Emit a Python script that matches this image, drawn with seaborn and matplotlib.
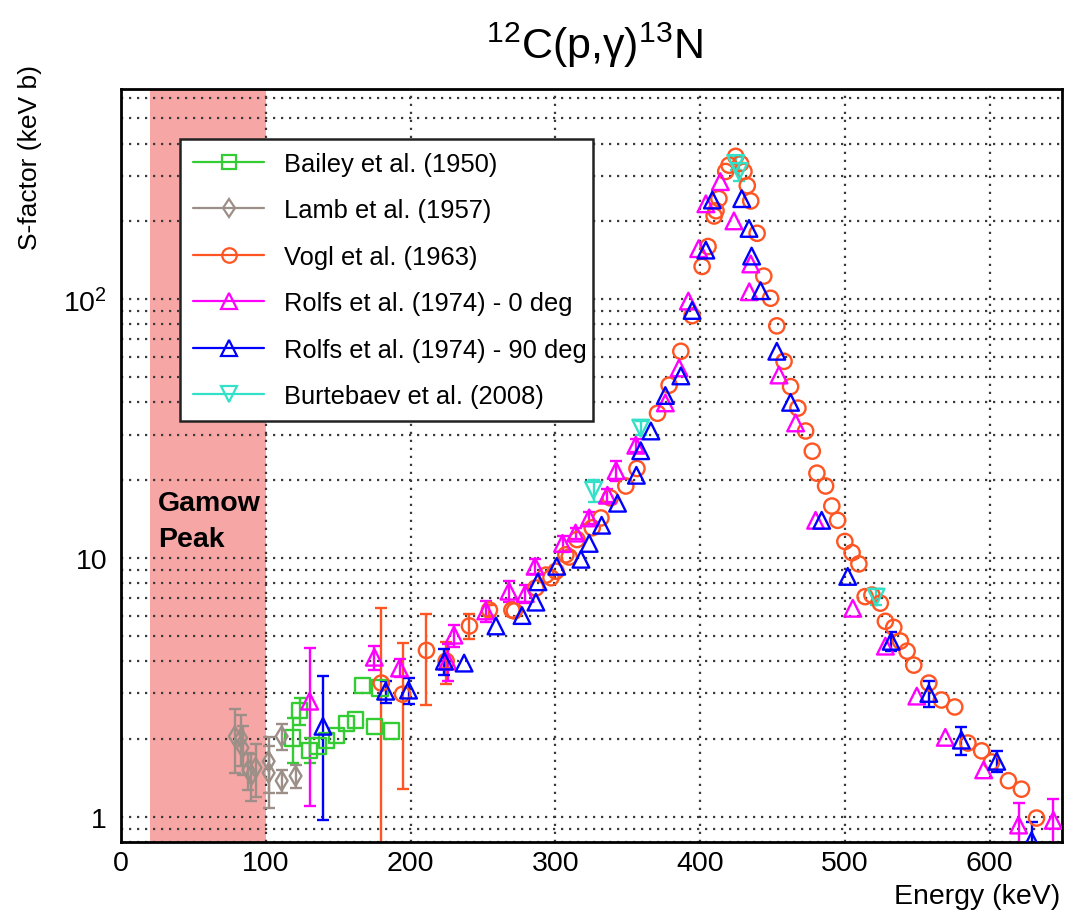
import matplotlib
matplotlib.use("Agg")
import matplotlib.pyplot as plt
from matplotlib.lines import Line2D
from matplotlib.ticker import LogLocator, NullFormatter, FuncFormatter, MultipleLocator
import numpy as np
import pandas as pd
import seaborn as sns

# --- data (energy in keV, S-factor in keV b) ---
bailey_e = [118.6, 123.4, 130.3, 136, 142, 149, 156, 162, 167, 175, 179, 187]
bailey_s = [2.02, 2.57, 1.81, 1.88, 1.97, 2.07, 2.30, 2.37, 3.23, 2.24, 3.15, 2.15]
bailey_err = [0.40, 0.30, 0.20, 0, 0, 0, 0, 0, 0, 0, 0, 0]

lamb_e = [78.6, 83, 84, 88, 90, 93, 102, 102, 111, 111, 120.6]
lamb_s = [2.05, 2.02, 1.85, 1.52, 1.45, 1.55, 1.64, 1.48, 2.05, 1.38, 1.44]
lamb_err = [0.57, 0.45, 0.40, 0.25, 0.30, 0.36, 0.40, 0.40, 0.23, 0.14, 0.15]

vogl_e = [179.8, 194.5, 211, 224.6, 240.7, 254.5, 270, 271.7, 286.6, 293.6, 297, 300.5,
          307.3, 309.6, 315, 325.5, 331.5, 338, 348.7, 356.4, 370.6, 378.6, 386.7, 394.5,
          401.4, 405.5, 409.7, 411, 413, 417.7, 420, 424.6, 428, 430.3, 432.6, 435, 439.4,
          444, 448.7, 453, 458, 462.5, 467.6, 472.9, 477.5, 480.7, 486.7, 491, 495, 500,
          505, 509.7, 514, 518.7, 524.5, 528, 533.8, 538.4, 543, 547.6, 558, 566.7, 575.9,
          585, 594.5, 601.4, 613, 622, 632.4]
vogl_s = [3.29, 2.98, 4.4, 4.0, 5.47, 6.3, 6.3, 6.25, 7.67, 8.6, 8.4, 8.9,
          10.3, 10.1, 11.8, 13.1, 14.3, 17.1, 19.0, 22.2, 36.3, 46.6, 63, 86.5,
          134, 160, 210, 220, 245, 312, 330, 357, 335, 312, 275, 240, 180,
          123, 101, 79, 57.6, 46, 38, 31, 25.9, 21.3, 19.0, 15.9, 14.0, 11.6,
          10.5, 9.5, 7.1, 7.2, 6.7, 5.7, 5.4, 4.78, 4.37, 3.86, 3.29, 2.83, 2.66,
          1.93, 1.8, 1.63, 1.38, 1.28, 0.99]
vogl_err = [3.1, 1.7, 1.7, 0.75, 0.6, 0.3] + [0] * 63

rolfs0_e = [130.3, 175, 192.4, 225.6, 230, 252, 268, 279.3, 286, 305, 314, 323.4, 336, 342,
            355.6, 376, 385.5, 391.9, 399, 404, 414, 423.4, 435, 434, 454.5, 466, 479.8,
            505.5, 528, 549.7, 569.4, 595.9, 620, 644]
rolfs0_s = [2.8, 4.14, 3.76, 4.0, 5.04, 6.25, 7.45, 7.3, 9.3, 11.4, 12.5, 14.3, 17.5, 21.8,
            27.3, 39.8, 54.3, 98.5, 157, 234, 285, 201, 137, 107, 51, 33.3, 14.0,
            6.4, 4.57, 2.93, 2.03, 1.52, 0.93, 0.97]
rolfs0_err = [1.7, 0.45, 0.3, 0.65, 0.5, 0.6, 0.7, 0.6, 0.6, 0.8, 0.6, 0.8, 1.0, 2.0,
              1.5, 0, 0, 0, 0, 0, 0, 0, 0, 0, 0, 0, 0,
              0, 0, 0, 0, 0, 0.2, 0.2]

rolfs90_e = [139.5, 182.8, 198.6, 223.4, 237, 259, 277, 286.6, 288, 301, 317.7, 323.4, 332,
             343, 356, 359, 366, 376, 386.7, 394.5, 404, 408.5, 428.8, 433.8, 435.6, 441.8,
             453, 462.5, 484, 502, 532, 558, 580.5, 604.9, 629]
rolfs90_s = [2.24, 3.06, 3.09, 4.0, 3.93, 5.47, 6.0, 6.76, 8.1, 9.3, 9.9, 11.4, 13.4,
             16.3, 20.9, 26, 31, 42.5, 50.6, 90.6, 155, 242, 245, 188, 147, 108,
             63, 40, 14.0, 8.5, 4.77, 3.0, 1.98, 1.64, 0.81]
rolfs90_err = [1.27, 0.3, 0.35, 0.45] + [0] * 26 + [0.4, 0.35, 0.25, 0.15, 0.15]

burt_e = [326.4, 359, 424.6, 427, 521.6]
burt_s = [18.3, 31.8, 335, 312, 7.07]
burt_err = [1.8, 2.0, 20, 25, 0.5]

series = [
    ("Bailey et al. (1950)", bailey_e, bailey_s, bailey_err, "#33cc33", "s", 11),
    ("Lamb et al. (1957)", lamb_e, lamb_s, lamb_err, "#9c8f87", "d", 10),
    ("Vogl et al. (1963)", vogl_e, vogl_s, vogl_err, "#ff5522", "o", 11),
    ("Rolfs et al. (1974) - 0 deg", rolfs0_e, rolfs0_s, rolfs0_err, "#ff00ff", "^", 12),
    ("Rolfs et al. (1974) - 90 deg", rolfs90_e, rolfs90_s, rolfs90_err, "#0000ff", "^", 12),
    ("Burtebaev et al. (2008)", burt_e, burt_s, burt_err, "#33e0c8", "v", 12),
]

sns.set_theme(style="white")
plt.rcParams["font.family"] = ["Liberation Sans", "DejaVu Sans"]
plt.rcParams["mathtext.fontset"] = "custom"
plt.rcParams["mathtext.rm"] = "Liberation Sans"
plt.rcParams["mathtext.it"] = "Liberation Sans:italic"
plt.rcParams["text.color"] = "black"

fig = plt.figure(figsize=(10.66, 9.12), dpi=100)
ax = fig.add_axes([121 / 1066, 1 - 843 / 912, 941 / 1066, 753 / 912])

# Gamow peak window
ax.axvspan(20, 100, color="#f7a6a6", lw=0, zorder=0.2)

for name, e, s, err, col, mk, ms in series:
    df = pd.DataFrame({"energy": e, "sfactor": s, "err": err})
    eb = df[df["err"] > 0]
    ax.errorbar(eb["energy"], eb["sfactor"], yerr=eb["err"], fmt="none",
                ecolor=col, elinewidth=1.7, capsize=4.5, capthick=1.7, zorder=2)
    sns.scatterplot(data=df, x="energy", y="sfactor", marker=mk, s=ms ** 2,
                    facecolor="none", edgecolor=col, linewidth=1.7, ax=ax, zorder=3)

ax.set_xlim(0, 650)
ax.set_ylim(0.8, 650)
ax.set_yscale("log")
ax.set_xlabel("")
ax.set_ylabel("")

ax.xaxis.set_major_locator(MultipleLocator(100))
ax.xaxis.set_minor_locator(MultipleLocator(20))
ax.yaxis.set_major_locator(LogLocator(base=10))
ax.yaxis.set_minor_locator(LogLocator(base=10, subs=np.arange(2, 10)))
ax.yaxis.set_minor_formatter(NullFormatter())
ylabels = {1: "1", 10: "10", 100: "$10^{2}$"}
ax.yaxis.set_major_formatter(FuncFormatter(lambda v, p: ylabels.get(int(round(v)), "")))

ax.set_axisbelow(True)
grid_kw = dict(color="#3a3a3a", lw=1.6, dashes=(1, 2.6))
ax.grid(True, which="major", axis="x", **grid_kw)
ax.grid(True, which="both", axis="y", **grid_kw)

ax.tick_params(axis="x", which="major", direction="in", length=16, width=1.6,
               labelsize=20.5, pad=6, colors="black")
ax.tick_params(axis="x", which="minor", direction="in", length=9, width=1.4)
ax.tick_params(axis="y", which="major", direction="in", length=12, width=1.6,
               labelsize=20.5, pad=10, colors="black")
ax.tick_params(axis="y", which="minor", direction="in", length=7, width=1.4)
for sp in ax.spines.values():
    sp.set_color("black")
    sp.set_linewidth(2)

ax.text(25.5, 16.3, "Gamow", fontsize=20.5, fontweight="bold", color="black",
        ha="left", va="center")
ax.text(25.5, 11.9, "Peak", fontsize=20.5, fontweight="bold", color="black",
        ha="left", va="center")

handles = [Line2D([0], [0], color=col, lw=1.6, marker=mk, markersize=ms * 0.95,
                  markerfacecolor="none", markeredgecolor=col, markeredgewidth=1.6)
           for name, e, s, err, col, mk, ms in series]
labels = [name for name, *_ in series]
leg = ax.legend(handles, labels, loc="upper left",
                bbox_to_anchor=(0.0627, 0.5604, 0.4389, 0.3732), mode="expand",
                borderaxespad=0, fontsize=18.4, handlelength=2.8, handletextpad=0.75,
                labelspacing=0.88, borderpad=0.5, frameon=True, fancybox=False)
leg.get_frame().set_edgecolor("#222222")
leg.get_frame().set_linewidth(1.8)
leg.get_frame().set_alpha(1)
for t in leg.get_texts():
    t.set_color("black")

fig.text(594 / 1066, 1 - 45 / 912, "$^{12}$C(p,γ)$^{13}$N", fontsize=31,
         ha="center", va="center")
fig.text(30 / 1066, 1 - 65 / 912, "S-factor (keV b)", fontsize=19, rotation=90,
         ha="center", va="top")
fig.text(1060 / 1066, 1 - 904 / 912, "Energy (keV)", fontsize=20.5, ha="right",
         va="baseline")

fig.savefig("out.png", dpi=100)
